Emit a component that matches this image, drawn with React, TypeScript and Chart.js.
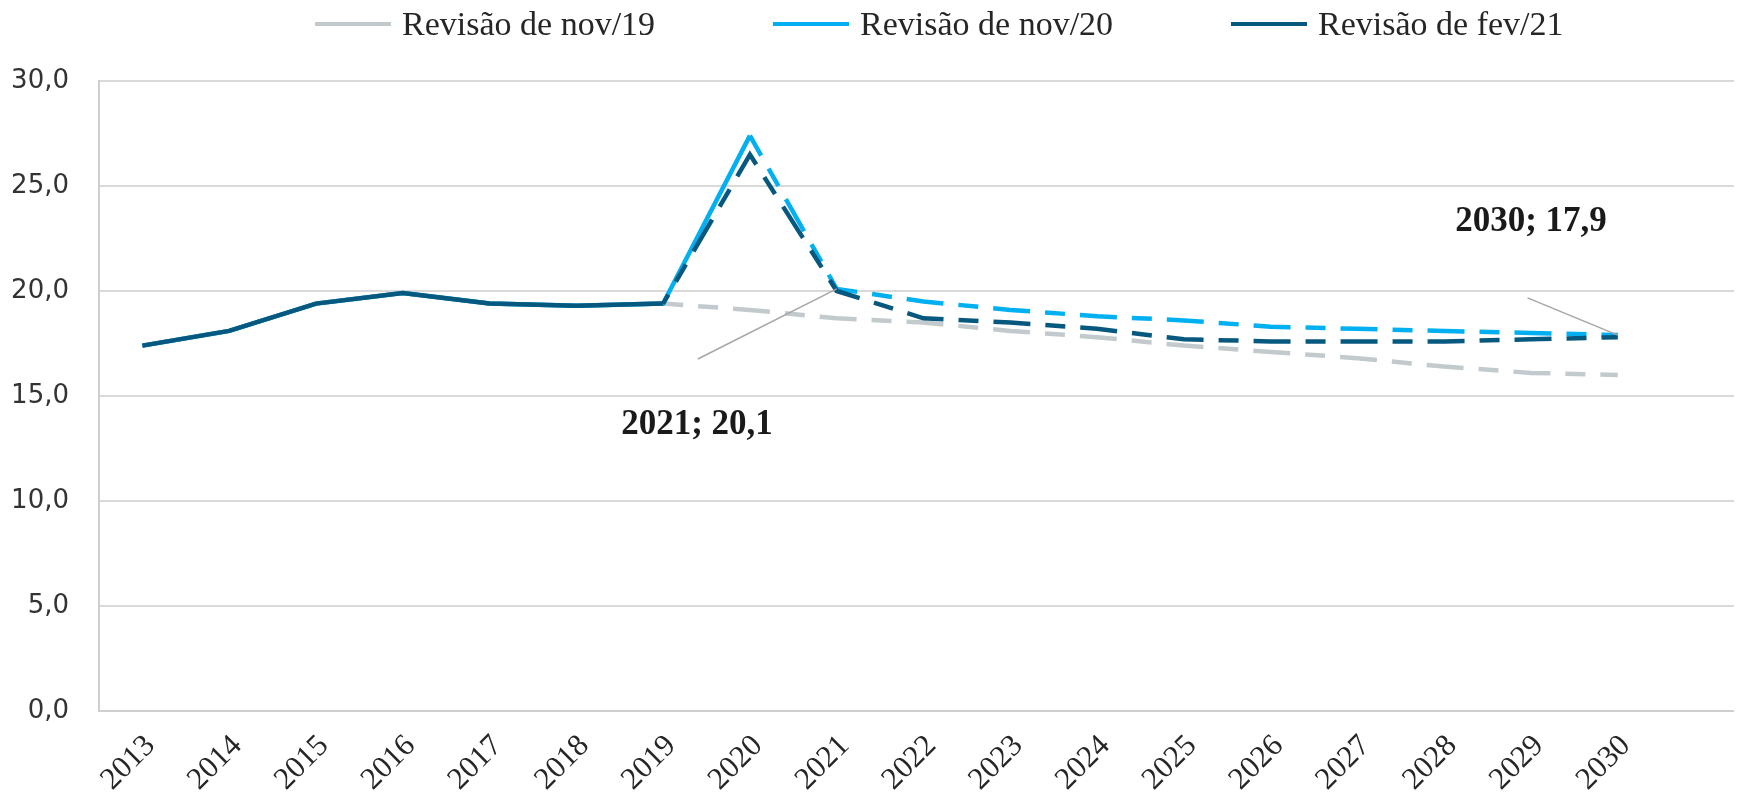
import React, { useEffect, useRef } from 'react';
import { Chart, registerables } from 'chart.js';

Chart.register(...registerables);

// ---------- data ----------
const years = ['2013', '2014', '2015', '2016', '2017', '2018', '2019', '2020', '2021', '2022', '2023', '2024', '2025', '2026', '2027', '2028', '2029', '2030'];
const seriesNames = ['Revisão de nov/19', 'Revisão de nov/20', 'Revisão de fev/21'];
const nov19 = [17.4, 18.1, 19.4, 19.9, 19.4, 19.3, 19.4, 19.1, 18.7, 18.5, 18.1, 17.8, 17.4, 17.1, 16.8, 16.4, 16.1, 16.0];
const nov20 = [17.4, 18.1, 19.4, 19.9, 19.4, 19.3, 19.4, 27.4, 20.1, 19.5, 19.1, 18.8, 18.6, 18.3, 18.2, 18.1, 18.0, 17.9];
const fev21 = [17.4, 18.1, 19.4, 19.9, 19.4, 19.3, 19.4, 26.5, 20.0, 18.7, 18.5, 18.2, 17.7, 17.6, 17.6, 17.6, 17.7, 17.8];
// index of first projected (dashed) segment of each series
const dashFrom = [6, 7, 6];
const yTicks = [0, 5, 10, 15, 20, 25, 30];

// data labels with leader lines: target point, label anchor (category index / value), leader start
const annTarget = [{ idx: 8, value: 20.1 }, { idx: 17, value: 17.9 }];
const annText = ['2021; 20,1', '2030; 17,9'];
const annLabelAt = [{ idx: 6.39, value: 13.6 }, { idx: 16.0, value: 23.3 }];
const annLineFrom = [{ idx: 6.4, value: 16.76 }, { idx: 15.96, value: 19.67 }];

// ---------- styles ----------
const COLORS = ['#c2cacd', '#00b0f0', '#07587f'];
const DASH = [37, 15, 20, 15];
const DASH_OFFSETS = [16.9, 14.1, 26.7];
const ORDERS = [2, 1, 0];
const SERIF = '"Liberation Serif", serif';
const LEGEND = { startX: 307, stride: 458, lineLen: 76, gap: 11, lineY: 16, textY: 27, size: 34 };

export default function App() {
  const ref = useRef<HTMLCanvasElement>(null);

  useEffect(() => {
    const canvas = ref.current;
    if (!canvas) return;

    const legendPlugin = {
      id: 'customLegend',
      afterDraw(chart: any) {
        const ctx = chart.ctx;
        ctx.save();
        ctx.font = `${LEGEND.size}px ${SERIF}`;
        chart.data.datasets.forEach((ds: any, i: number) => {
          const x0 = LEGEND.startX + i * LEGEND.stride;
          ctx.strokeStyle = ds.borderColor;
          ctx.lineWidth = 4;
          ctx.setLineDash([]);
          ctx.beginPath();
          ctx.moveTo(x0, LEGEND.lineY);
          ctx.lineTo(x0 + LEGEND.lineLen, LEGEND.lineY);
          ctx.stroke();
          ctx.fillStyle = '#262626';
          ctx.textAlign = 'left';
          ctx.textBaseline = 'alphabetic';
          ctx.fillText(ds.label, x0 + LEGEND.lineLen + LEGEND.gap, LEGEND.textY);
        });
        ctx.restore();
      },
    };

    const annotationPlugin = {
      id: 'dataLabels',
      afterDatasetsDraw(chart: any) {
        const ctx = chart.ctx;
        const xs = chart.scales.x;
        const ys = chart.scales.y;
        ctx.save();
        annTarget.forEach((t, i) => {
          const from = annLineFrom[i];
          ctx.strokeStyle = '#a6a6a6';
          ctx.lineWidth = 1.5;
          ctx.setLineDash([]);
          ctx.beginPath();
          ctx.moveTo(xs.getPixelForValue(from.idx), ys.getPixelForValue(from.value));
          ctx.lineTo(xs.getPixelForValue(t.idx), ys.getPixelForValue(t.value));
          ctx.stroke();
          const at = annLabelAt[i];
          ctx.font = `bold 35px ${SERIF}`;
          ctx.fillStyle = '#1a1a1a';
          ctx.textAlign = 'center';
          ctx.textBaseline = 'middle';
          ctx.fillText(annText[i], xs.getPixelForValue(at.idx), ys.getPixelForValue(at.value));
        });
        ctx.restore();
      },
    };

    const series = [nov19, nov20, fev21];
    const chart = new Chart(canvas, {
      type: 'line',
      data: {
        labels: [...years, ''],
        datasets: series.map((data, i) => ({
          label: seriesNames[i],
          data,
          borderColor: COLORS[i],
          backgroundColor: COLORS[i],
          borderWidth: 4.5,
          pointRadius: 0,
          pointHoverRadius: 0,
          tension: 0,
          order: ORDERS[i],
          borderDashOffset: DASH_OFFSETS[i],
          segment: {
            borderDash: (ctx: any) => (ctx.p0DataIndex >= dashFrom[i] ? DASH : undefined),
          },
        })),
      },
      options: {
        responsive: false,
        animation: false,
        events: [],
        layout: { padding: { top: 73, right: 2, left: 0, bottom: 0 } },
        plugins: {
          legend: { display: false },
          tooltip: { enabled: false },
        },
        scales: {
          x: {
            offset: true,
            grid: { display: false, drawTicks: false },
            border: { display: true, color: '#cfcfcf', width: 2 },
            ticks: {
              autoSkip: false,
              minRotation: 45,
              maxRotation: 45,
              padding: 17,
              labelOffset: 8,
              color: '#262626',
              font: { family: SERIF, size: 31 },
            },
            afterFit: (s: any) => {
              s.height = 91;
            },
          },
          y: {
            min: 0,
            max: 30,
            afterBuildTicks: (s: any) => {
              s.ticks = yTicks.map((v) => ({ value: v }));
            },
            grid: { color: '#d9d9d9', lineWidth: 2, drawTicks: false },
            border: { display: true, color: '#cfcfcf', width: 2 },
            ticks: {
              padding: 30,
              color: '#333333',
              font: { family: '"DejaVu Sans", sans-serif', size: 26 },
              callback: (v: any) => Number(v).toFixed(1).replace('.', ','),
            },
            afterFit: (s: any) => {
              s.width = 91;
            },
          },
        },
      },
      plugins: [legendPlugin, annotationPlugin],
    } as any);

    return () => chart.destroy();
  }, []);

  return (
    <div style={{ width: 1734, height: 794, overflow: 'hidden' }}>
      <canvas ref={ref} width={1742} height={794} style={{ display: 'block' }} />
    </div>
  );
}
